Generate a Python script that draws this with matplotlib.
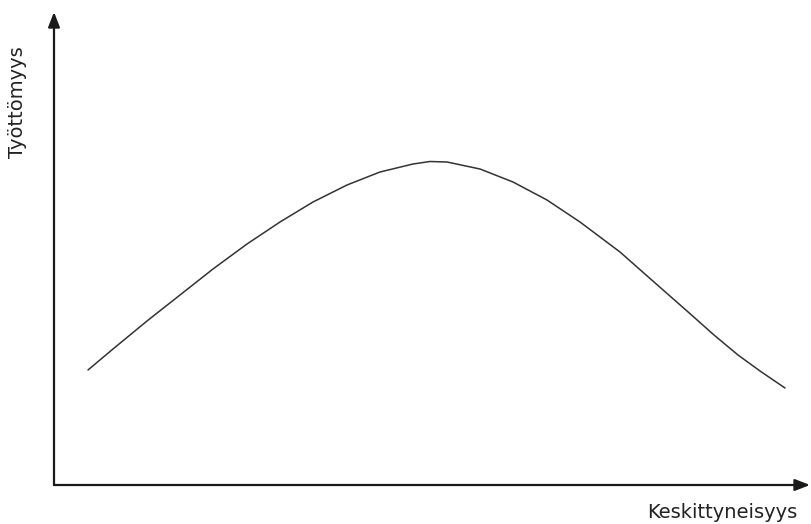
import matplotlib.pyplot as plt

# curve (units: pixels from the axis origin)
keskittyneisyys = [34, 59, 93, 126, 159, 193, 226, 259, 293, 326, 359, 376, 393,
                   426, 459, 493, 526, 566, 600, 633, 660, 684, 706, 731]
tyottomyys = [115, 136, 164, 190, 216, 241, 263, 283, 300, 313, 321, 323.5, 323,
              316, 303, 285, 263, 233, 203, 174, 150, 130, 114, 97]

x_label = "Keskittyneisyys"
y_label = "Työttömyys"

W, H = 812, 524
ox, oy = 54, 485

fig = plt.figure(figsize=(W / 100, H / 100), dpi=100)
ax = fig.add_axes([ox / W, (H - oy) / H, (W - ox) / W, oy / H])
ax.set_xlim(0, W - ox)
ax.set_ylim(0, oy)
ax.axis("off")

ax.plot(keskittyneisyys, tyottomyys, color="#333333", lw=1.1,
        solid_capstyle="round", solid_joinstyle="round")

arrow = dict(arrowstyle="-|>,head_length=0.9,head_width=0.35", color="#1a1a1a", lw=1.6,
             shrinkA=0, shrinkB=0)
ax.annotate("", xy=(0, oy - 12), xytext=(0, 0), arrowprops=arrow, annotation_clip=False)
ax.annotate("", xy=(W - ox - 2, 0), xytext=(0, 0), arrowprops=arrow, annotation_clip=False)

fig.text(797 / W, 1 - 512 / H, x_label, ha="right", va="center",
         fontsize=14, family="DejaVu Sans", color="#222222")
fig.text(18 / W, 1 - 102 / H, y_label, ha="center", va="center", rotation=90,
         fontsize=14, family="DejaVu Sans", color="#222222")

fig.savefig("out.png", dpi=100, facecolor="white")
